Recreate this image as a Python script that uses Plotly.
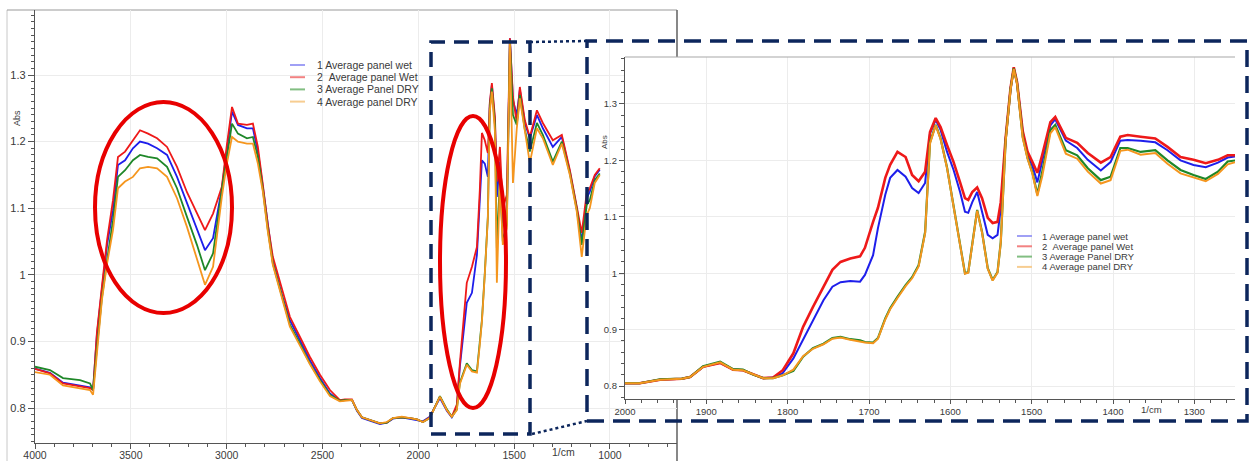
import plotly.graph_objects as go

W, H = 1250, 461

# ---------------- data ----------------
series_names = ["1 Average panel wet", "2 \u00a0Average panel Wet",
                "3 Average Panel DRY", "4 Average panel DRY"]

# Full spectrum (left panel), wavenumber 1/cm
wn_full = [4000, 3922, 3854, 3765, 3713, 3697, 3677, 3651,
           3624, 3593, 3567, 3530, 3489, 3452, 3410, 3363,
           3311, 3259, 3207, 3155, 3113, 3071, 3025, 3000,
           2972, 2941, 2894, 2863, 2837, 2811, 2785, 2759,
           2707, 2670, 2618, 2566, 2513, 2461, 2409, 2383,
           2346, 2320, 2294, 2252, 2200, 2164, 2132, 2086,
           2044, 2007, 1976, 1940, 1887, 1851, 1825, 1799,
           1783, 1747, 1720, 1694, 1679, 1668, 1653, 1637,
           1627, 1616, 1600, 1590, 1574, 1559, 1538, 1522,
           1506, 1486, 1470, 1444, 1418, 1381, 1350, 1298,
           1251, 1209, 1173, 1147, 1121, 1105, 1079, 1053]

full_wet1 = [0.859, 0.853, 0.838, 0.834, 0.831, 0.827, 0.910, 0.978,
             1.045, 1.097, 1.165, 1.172, 1.190, 1.200, 1.197, 1.190,
             1.180, 1.147, 1.107, 1.067, 1.037, 1.055, 1.130, 1.185,
             1.245, 1.225, 1.220, 1.220, 1.185, 1.132, 1.072, 1.020,
             0.965, 0.932, 0.902, 0.872, 0.845, 0.822, 0.811, 0.812,
             0.812, 0.796, 0.785, 0.781, 0.776, 0.778, 0.784, 0.786,
             0.784, 0.782, 0.780, 0.787, 0.815, 0.796, 0.786, 0.800,
             0.862, 0.958, 0.973, 1.030, 1.102, 1.172, 1.167, 1.147,
             1.255, 1.285, 1.230, 1.117, 1.170, 1.078, 1.087, 1.355,
             1.262, 1.240, 1.278, 1.228, 1.205, 1.240, 1.220, 1.192,
             1.207, 1.155, 1.100, 1.050, 1.115, 1.125, 1.148, 1.158]

full_wet2 = [0.859, 0.852, 0.837, 0.833, 0.830, 0.827, 0.913, 0.982,
             1.052, 1.112, 1.177, 1.185, 1.202, 1.217, 1.212, 1.205,
             1.192, 1.162, 1.124, 1.092, 1.067, 1.092, 1.132, 1.192,
             1.252, 1.227, 1.225, 1.227, 1.192, 1.135, 1.075, 1.027,
             0.972, 0.937, 0.907, 0.877, 0.850, 0.827, 0.812, 0.813,
             0.813, 0.797, 0.786, 0.782, 0.777, 0.778, 0.785, 0.786,
             0.785, 0.783, 0.779, 0.786, 0.817, 0.797, 0.787, 0.805,
             0.867, 0.988, 1.012, 1.042, 1.127, 1.213, 1.202, 1.183,
             1.258, 1.288, 1.237, 1.140, 1.192, 1.100, 1.120, 1.355,
             1.267, 1.228, 1.282, 1.232, 1.207, 1.247, 1.228, 1.202,
             1.210, 1.157, 1.102, 1.063, 1.123, 1.130, 1.150, 1.160]

full_dry3 = [0.862, 0.857, 0.845, 0.842, 0.837, 0.827, 0.890, 0.965,
             1.022, 1.082, 1.147, 1.157, 1.172, 1.180, 1.177, 1.175,
             1.162, 1.130, 1.087, 1.045, 1.007, 1.032, 1.128, 1.172,
             1.227, 1.212, 1.205, 1.207, 1.177, 1.128, 1.068, 1.017,
             0.962, 0.925, 0.897, 0.867, 0.842, 0.820, 0.811, 0.812,
             0.812, 0.797, 0.786, 0.782, 0.777, 0.778, 0.785, 0.786,
             0.785, 0.783, 0.779, 0.785, 0.818, 0.798, 0.787, 0.798,
             0.838, 0.867, 0.857, 0.855, 0.897, 0.932, 1.002, 1.087,
             1.250, 1.280, 1.225, 1.040, 1.145, 1.050, 1.075, 1.352,
             1.240, 1.225, 1.270, 1.218, 1.185, 1.228, 1.210, 1.170,
             1.200, 1.152, 1.098, 1.045, 1.105, 1.112, 1.142, 1.152]

full_dry4 = [0.854, 0.850, 0.834, 0.830, 0.827, 0.820, 0.883, 0.962,
             1.017, 1.067, 1.130, 1.140, 1.147, 1.160, 1.162, 1.160,
             1.147, 1.115, 1.072, 1.022, 0.985, 1.012, 1.117, 1.165,
             1.207, 1.200, 1.197, 1.197, 1.167, 1.125, 1.065, 1.015,
             0.960, 0.922, 0.894, 0.866, 0.840, 0.818, 0.810, 0.811,
             0.812, 0.797, 0.786, 0.782, 0.777, 0.779, 0.785, 0.787,
             0.785, 0.783, 0.779, 0.785, 0.817, 0.797, 0.787, 0.797,
             0.836, 0.865, 0.855, 0.853, 0.895, 0.930, 1.000, 1.085,
             1.245, 1.275, 1.215, 0.988, 1.140, 1.045, 1.070, 1.350,
             1.138, 1.220, 1.265, 1.213, 1.168, 1.220, 1.205, 1.165,
             1.197, 1.150, 1.095, 1.027, 1.090, 1.100, 1.138, 1.150]

# Zoomed spectrum (inset), 2000-1250 1/cm
wn_zoom = [2000, 1982, 1957, 1930, 1920, 1904, 1883, 1867, 1855, 1842,
           1830, 1818, 1806, 1793, 1781, 1769, 1756, 1745, 1735, 1723,
           1711, 1705, 1695, 1689, 1680, 1674, 1665, 1655, 1647, 1639,
           1631, 1625, 1618, 1612, 1604, 1596, 1588, 1582, 1578, 1573,
           1567, 1561, 1554, 1548, 1542, 1538, 1532, 1526, 1522, 1518,
           1511, 1505, 1499, 1493, 1487, 1477, 1471, 1458, 1444, 1431,
           1415, 1403, 1391, 1382, 1366, 1348, 1333, 1317, 1301, 1286,
           1271, 1259, 1249]

zoom_wet1 = [0.805, 0.805, 0.811, 0.813, 0.816, 0.834, 0.841, 0.829, 0.828, 0.820,
             0.814, 0.815, 0.823, 0.849, 0.882, 0.917, 0.952, 0.976, 0.984, 0.986,
             0.985, 0.997, 1.032, 1.080, 1.139, 1.169, 1.183, 1.171, 1.151, 1.142,
             1.160, 1.248, 1.272, 1.254, 1.215, 1.183, 1.144, 1.109, 1.107, 1.126,
             1.144, 1.109, 1.068, 1.062, 1.068, 1.115, 1.238, 1.327, 1.364, 1.338,
             1.250, 1.211, 1.190, 1.161, 1.197, 1.262, 1.273, 1.235, 1.222, 1.201,
             1.182, 1.197, 1.235, 1.236, 1.235, 1.232, 1.218, 1.200, 1.192, 1.188,
             1.196, 1.205, 1.207]

zoom_wet2 = [0.805, 0.805, 0.811, 0.813, 0.816, 0.834, 0.841, 0.829, 0.828, 0.820,
             0.814, 0.815, 0.828, 0.858, 0.905, 0.940, 0.976, 1.006, 1.020, 1.026,
             1.030, 1.045, 1.091, 1.116, 1.169, 1.192, 1.215, 1.206, 1.174, 1.163,
             1.180, 1.250, 1.275, 1.259, 1.227, 1.197, 1.161, 1.133, 1.130, 1.144,
             1.152, 1.133, 1.098, 1.089, 1.091, 1.126, 1.240, 1.328, 1.365, 1.339,
             1.252, 1.215, 1.197, 1.178, 1.210, 1.268, 1.277, 1.240, 1.231, 1.213,
             1.196, 1.206, 1.242, 1.245, 1.242, 1.239, 1.224, 1.206, 1.201, 1.195,
             1.201, 1.209, 1.209]

zoom_dry3 = [0.805, 0.805, 0.812, 0.813, 0.816, 0.835, 0.843, 0.830, 0.829, 0.820,
             0.814, 0.814, 0.819, 0.827, 0.852, 0.867, 0.875, 0.885, 0.887, 0.883,
             0.881, 0.878, 0.877, 0.885, 0.920, 0.938, 0.958, 0.979, 0.993, 1.014,
             1.073, 1.232, 1.263, 1.239, 1.187, 1.121, 1.050, 1.000, 1.002, 1.055,
             1.112, 1.073, 1.009, 0.988, 1.002, 1.055, 1.235, 1.326, 1.363, 1.337,
             1.242, 1.204, 1.178, 1.140, 1.180, 1.254, 1.263, 1.218, 1.209, 1.186,
             1.165, 1.171, 1.222, 1.222, 1.215, 1.218, 1.200, 1.183, 1.174, 1.167,
             1.180, 1.198, 1.200]

zoom_dry4 = [0.805, 0.805, 0.811, 0.813, 0.816, 0.834, 0.842, 0.829, 0.828, 0.820,
             0.814, 0.814, 0.819, 0.829, 0.853, 0.866, 0.874, 0.884, 0.886, 0.882,
             0.879, 0.877, 0.876, 0.884, 0.918, 0.936, 0.956, 0.977, 0.991, 1.012,
             1.071, 1.230, 1.262, 1.238, 1.186, 1.120, 1.049, 0.999, 1.001, 1.054,
             1.111, 1.072, 1.008, 0.987, 1.001, 1.054, 1.234, 1.325, 1.362, 1.336,
             1.240, 1.203, 1.176, 1.137, 1.172, 1.248, 1.259, 1.212, 1.203, 1.180,
             1.159, 1.165, 1.217, 1.219, 1.210, 1.213, 1.194, 1.177, 1.170, 1.163,
             1.176, 1.193, 1.197]

full_x_ticks = [4000, 3500, 3000, 2500, 2000, 1500, 1000]
zoom_x_ticks = [2000, 1900, 1800, 1700, 1600, 1500, 1400, 1300]
y_ticks = [0.8, 0.9, 1.0, 1.1, 1.2, 1.3]
y_tick_text = ["0.8", "0.9", "1", "1.1", "1.2", "1.3"]

# ---------------- styling ----------------
line_colors = ["rgb(30,30,235)", "rgb(238,25,25)", "rgb(30,135,40)", "rgb(245,150,30)"]
legend_colors = ["rgb(160,160,245)", "rgb(242,130,130)", "rgb(130,190,130)", "rgb(247,205,145)"]
NAVY = "rgb(12,38,92)"
FONT = "Liberation Sans, Arial, sans-serif"
TXT = "#3a3a3a"


def px(x):
    return x / W


def py(y):
    return 1 - y / H


fig = go.Figure()

full_series = [full_wet1, full_wet2, full_dry3, full_dry4]
zoom_series = [zoom_wet1, zoom_wet2, zoom_dry3, zoom_dry4]

for name, vals, col in zip(series_names, full_series, line_colors):
    fig.add_trace(go.Scatter(x=wn_full, y=vals, mode="lines", name=name,
                             line=dict(color=col, width=1.8),
                             xaxis="x", yaxis="y", showlegend=False))

zoom_widths = [2.0, 2.6, 2.2, 2.0]
for name, vals, col, lw in zip(series_names, zoom_series, line_colors, zoom_widths):
    fig.add_trace(go.Scatter(x=wn_zoom, y=vals, mode="lines", name=name,
                             line=dict(color=col, width=lw),
                             xaxis="x2", yaxis="y2", showlegend=False))

axis_common = dict(showline=True, linecolor="#555", linewidth=1.3, ticks="outside",
                   tickcolor="#555", zeroline=False, showgrid=True,
                   gridcolor="#ececec", gridwidth=1, automargin=False)

fig.update_layout(
    width=W, height=H,
    margin=dict(l=0, r=0, t=0, b=0, autoexpand=False),
    paper_bgcolor="white", plot_bgcolor="white",
    font=dict(family=FONT, color=TXT),
    xaxis=dict(domain=[px(35), px(677)], range=[4000, 650], anchor="y",
               tickmode="array", tickvals=full_x_ticks,
               ticktext=[str(v) for v in full_x_ticks], ticklen=5,
               ticklabelstandoff=-3,
               tickfont=dict(size=10.5, color=TXT),
               minor=dict(tickmode="linear", tick0=0, dtick=100, ticklen=3,
                          ticks="outside", tickcolor="#555", showgrid=False),
               **axis_common),
    yaxis=dict(domain=[py(443), py(10)], range=[0.7475, 1.3976], anchor="x",
               tickmode="array", tickvals=y_ticks, ticktext=y_tick_text, ticklen=6,
               tickfont=dict(size=11, color=TXT),
               minor=dict(tickmode="linear", tick0=0, dtick=0.01, ticklen=3,
                          ticks="outside", tickcolor="#555", showgrid=False),
               **axis_common),
    xaxis2=dict(domain=[px(625), px(1235)], range=[2000, 1250], anchor="y2",
                tickmode="array", tickvals=zoom_x_ticks,
                ticktext=[str(v) for v in zoom_x_ticks], ticklen=4,
                ticklabelstandoff=-1,
                tickfont=dict(size=9.5, color=TXT),
                minor=dict(tickmode="linear", tick0=0, dtick=20, ticklen=3,
                           ticks="outside", tickcolor="#555", showgrid=False),
                **axis_common),
    yaxis2=dict(domain=[py(399), py(57)], range=[0.777, 1.3833], anchor="x2",
                tickmode="array", tickvals=y_ticks, ticktext=y_tick_text, ticklen=5,
                tickfont=dict(size=9.5, color=TXT),
                minor=dict(tickmode="linear", tick0=0, dtick=0.02, ticklen=3,
                           ticks="outside", tickcolor="#555", showgrid=False),
                **axis_common),
)

shapes = []


def line_shape(x0, y0, x1, y1, color, width, dash="solid", layer="above"):
    shapes.append(dict(type="line", xref="paper", yref="paper",
                       x0=px(x0), y0=py(y0), x1=px(x1), y1=py(y1),
                       line=dict(color=color, width=width, dash=dash), layer=layer))


# software window frame of the left spectrum
line_shape(7, 10, 7, 461, "#c8c8c8", 1, layer="below")
line_shape(7, 10, 677, 10, "#9a9a9a", 1.2, layer="below")
line_shape(677, 10, 677, 461, "#6a6a6a", 1.6, layer="below")
# top border of inset plot
line_shape(625, 57, 1235, 57, "#a8a8a8", 1.2)

# dashed navy boxes and dotted connectors
shapes.append(dict(type="rect", xref="paper", yref="paper",
                   x0=px(431), x1=px(530), y0=py(434), y1=py(42),
                   line=dict(color=NAVY, width=3.5, dash="15px,9px"), layer="above"))
shapes.append(dict(type="rect", xref="paper", yref="paper",
                   x0=px(587), x1=px(1247), y0=py(421), y1=py(41),
                   line=dict(color=NAVY, width=3.5, dash="17px,9px"), layer="above"))
line_shape(530, 42, 587, 41, NAVY, 2.5, dash="dot")
line_shape(532, 434, 587, 421, NAVY, 2.5, dash="dot")

# red ellipses
for (x0, y0, x1, y1) in [(95, 102, 232, 313), (440, 116, 506, 408)]:
    shapes.append(dict(type="circle", xref="paper", yref="paper",
                       x0=px(x0), x1=px(x1), y0=py(y1), y1=py(y0),
                       line=dict(color="rgb(232,0,0)", width=4), layer="above"))

annotations = []


def text(x, y, s, size, anchor="center", angle=0):
    annotations.append(dict(xref="paper", yref="paper", x=px(x), y=py(y), text=s,
                            showarrow=False, xanchor=anchor, yanchor="middle",
                            textangle=angle, font=dict(size=size, color=TXT, family=FONT)))


# legends (left panel and inset)
for i, (name, col) in enumerate(zip(series_names, legend_colors)):
    yl = 65 + i * 12.2
    line_shape(290, yl, 305, yl, col, 2)
    text(315, yl, name, 10.5, anchor="left")
    yi = 236 + i * 10.3
    line_shape(1017, yi, 1032, yi, col, 2)
    text(1040, yi, name, 9.5, anchor="left")

# axis titles / units
text(17, 118, "Abs", 9, angle=-90)
text(604, 142, "Abs", 8, angle=-90)
text(563, 452, "1/cm", 10.5)
text(1151, 409, "1/cm", 9.5)

fig.update_layout(shapes=shapes, annotations=annotations)

fig.write_html("out.html")
